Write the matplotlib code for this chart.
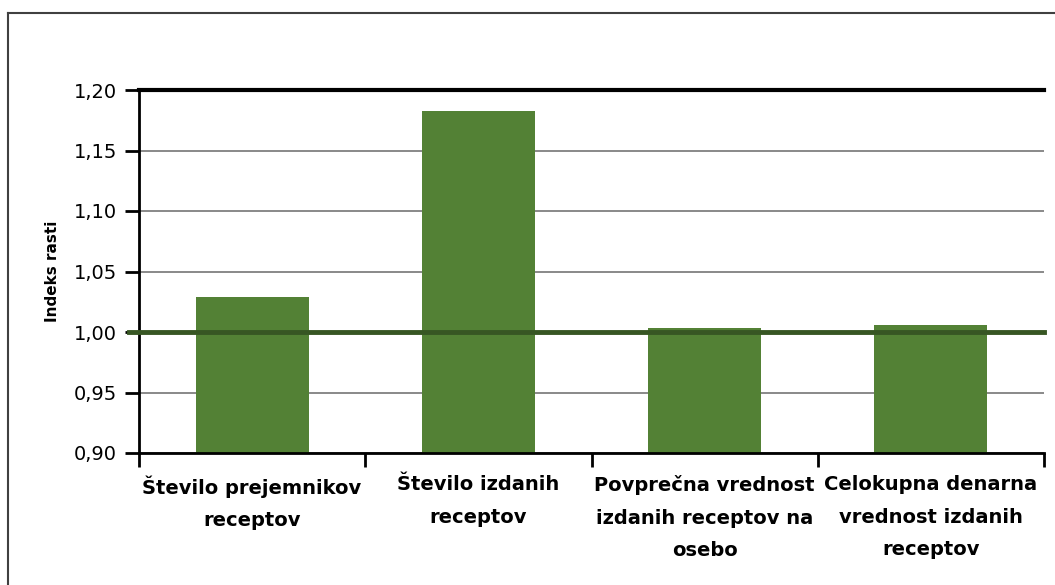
# Imports

import matplotlib
matplotlib.use("Agg")
import matplotlib.pyplot as plt
from matplotlib.lines import Line2D
from matplotlib.ticker import FuncFormatter, FixedLocator

# Data
categories = [
    "Število prejemnikov\nreceptov",
    "Število izdanih\nreceptov",
    "Povprečna vrednost\nizdanih receptov na\nosebo",
    "Celokupna denarna\nvrednost izdanih\nreceptov",
]
growth_index = [1.029, 1.183, 1.003, 1.006]
y_ticks = [0.90, 0.95, 1.00, 1.05, 1.10, 1.15, 1.20]
baseline = 1.00

bar_color = "#538135"
line_color = "#375623"

fig = plt.figure(figsize=(10.55, 5.85), dpi=100)
ax = fig.add_axes([139 / 1055, 1 - 453 / 585, (1044 - 139) / 1055, (453 - 90) / 585])

positions = list(range(len(categories)))
ax.bar(positions, [v - y_ticks[0] for v in growth_index], bottom=y_ticks[0],
       width=0.5, color=bar_color, zorder=2)
ax.axhline(baseline, xmin=-10 / 905, xmax=1, color=line_color, lw=3.5,
           zorder=3, clip_on=False)

ax.set_xlim(-0.5, len(categories) - 0.5)
ax.set_ylim(y_ticks[0], y_ticks[-1])

# y axis
ax.set_yticks(y_ticks)
ax.yaxis.set_major_formatter(FuncFormatter(lambda v, p: f"{v:.2f}".replace(".", ",")))
ax.tick_params(axis="y", length=10, width=2, labelsize=14, pad=6, color="black")
ax.grid(axis="y", color="#808080", lw=1.3, zorder=0)
ax.set_ylabel("Indeks rasti", fontsize=11, fontweight="bold", labelpad=10)

# x axis: ticks at category boundaries, labels at centres
ax.xaxis.set_major_locator(FixedLocator([p - 0.5 for p in positions] + [positions[-1] + 0.5]))
ax.xaxis.set_major_formatter(FuncFormatter(lambda v, p: ""))
ax.xaxis.set_minor_locator(FixedLocator(positions))
ax.set_xticklabels(categories, minor=True, fontweight="bold",
                   fontsize=14, linespacing=1.9, va="top")
ax.tick_params(axis="x", which="major", length=10, width=2, color="black")
ax.tick_params(axis="x", which="minor", length=0, pad=16)

for side in ["left", "bottom", "top"]:
    ax.spines[side].set_color("black")
    ax.spines[side].set_linewidth(2)
ax.spines["top"].set_linewidth(3)
ax.spines["right"].set_visible(False)

# outer frame (left and top edges visible)
fig.add_artist(Line2D([8 / 1055, 8 / 1055], [0, 1 - 13 / 585], color="#404040", lw=1.5))
fig.add_artist(Line2D([8 / 1055, 1], [1 - 13 / 585, 1 - 13 / 585], color="#404040", lw=1.5))

fig.savefig("out.png", dpi=100)
